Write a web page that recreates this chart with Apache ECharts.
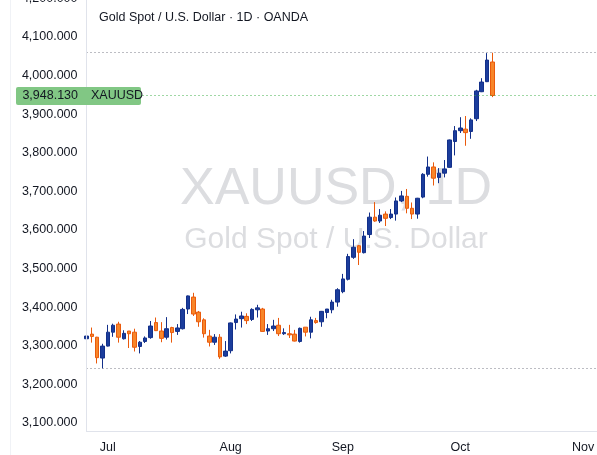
<!DOCTYPE html>
<html>
<head>
<meta charset="utf-8">
<title>XAUUSD 1D</title>
<script src="https://cdn.jsdelivr.net/npm/echarts@6/dist/echarts.min.js"></script>
<style>
  html, body { margin: 0; padding: 0; background: #fff; }
  #chart { width: 597px; height: 455px; }
</style>
</head>
<body>
<div id="chart"></div>
<script>
// daily bars Jun 25 - Oct 9 2025
const opens  = [3318, 3330, 3322, 3268, 3299, 3335, 3356, 3318, 3338, 3335, 3298, 3311, 3321, 3360, 3338, 3322,
                3347, 3337, 3344, 3395, 3426, 3387, 3367, 3325, 3309, 3322, 3273, 3287, 3360, 3370, 3376, 3368,
                3393, 3395, 3338, 3344, 3353, 3331, 3331, 3330, 3311, 3348, 3335, 3365, 3362, 3386, 3393, 3413,
                3440, 3472, 3529, 3559, 3541, 3588, 3633, 3623, 3641, 3632, 3641, 3675, 3687, 3656, 3641, 3685,
                3744, 3763, 3736, 3747, 3762, 3829, 3857, 3861, 3855, 3888, 3958, 3984, 4035];
const closes = [3325, 3324, 3269, 3299, 3335, 3353, 3322, 3332, 3331, 3296, 3309, 3320, 3351, 3339, 3319, 3344,
                3334, 3346, 3394, 3429, 3382, 3362, 3331, 3309, 3322, 3271, 3286, 3359, 3369, 3377, 3365, 3394,
                3398, 3337, 3344, 3351, 3331, 3334, 3328, 3312, 3345, 3335, 3367, 3360, 3389, 3395, 3413, 3445,
                3473, 3531, 3555, 3542, 3584, 3633, 3623, 3638, 3630, 3641, 3675, 3688, 3656, 3641, 3682, 3744,
                3763, 3734, 3747, 3758, 3833, 3857, 3864, 3852, 3885, 3960, 3983, 4040, 3948.13];
const lows   = [3315, 3308, 3254, 3241, 3298, 3323, 3308, 3316, 3294, 3285, 3280, 3307, 3318, 3338, 3309, 3316,
                3308, 3328, 3342, 3382, 3377, 3349, 3321, 3298, 3302, 3266, 3271, 3280, 3342, 3347, 3356, 3364,
                3373, 3336, 3328, 3338, 3325, 3328, 3320, 3311, 3308, 3324, 3319, 3357, 3349, 3371, 3384, 3401,
                3436, 3469, 3525, 3509, 3539, 3579, 3621, 3618, 3610, 3628, 3624, 3672, 3643, 3628, 3629, 3682,
                3738, 3715, 3721, 3736, 3761, 3793, 3851, 3818, 3836, 3882, 3957, 3983, 3944];
const highs  = [3327, 3347, 3323, 3305, 3354, 3357, 3362, 3340, 3338, 3344, 3312, 3324, 3364, 3373, 3361, 3374,
                3349, 3356, 3398, 3430, 3437, 3390, 3371, 3341, 3330, 3330, 3312, 3360, 3381, 3388, 3384, 3397,
                3406, 3398, 3356, 3367, 3372, 3345, 3354, 3341, 3347, 3348, 3375, 3372, 3390, 3395, 3419, 3449,
                3486, 3538, 3576, 3561, 3597, 3645, 3672, 3654, 3648, 3654, 3684, 3701, 3706, 3671, 3683, 3747,
                3790, 3775, 3760, 3781, 3834, 3869, 3892, 3895, 3889, 3963, 3993, 4058, 4059];
const lastPrice = 3948.13;
const symbol = 'XAUUSD';
const firstDay = '2025-06-25';
const slotCount = 97; // bars + empty weekdays to early Nov
const monthNames = ['Jan', 'Feb', 'Mar', 'Apr', 'May', 'Jun', 'Jul', 'Aug', 'Sep', 'Oct', 'Nov', 'Dec'];
const priceMin = 3000, priceMax = 4200, priceStep = 100;

const FONT = '"Liberation Sans", Arial, sans-serif';
const TEXT = '#131722';

// weekday calendar for the category axis
const dates = [];
let d = new Date(firstDay + 'T00:00:00Z');
while (dates.length < slotCount) {
  const wd = d.getUTCDay();
  if (wd !== 0 && wd !== 6) dates.push(d.toISOString().slice(0, 10));
  d.setUTCDate(d.getUTCDate() + 1);
}
const monthStart = {};
dates.forEach((s, i) => {
  if (i > 0 && s.slice(5, 7) !== dates[i - 1].slice(5, 7)) monthStart[i] = true;
});

const bars = opens.map((o, i) => [o, closes[i], lows[i], highs[i]]);

function fmtPrice(v) {
  const p = Number(v).toFixed(3).split('.');
  return p[0].replace(/\B(?=(\d{3})+(?!\d))/g, ',') + '.' + p[1];
}

const dotted = (color) => ({
  silent: true,
  symbol: ['none', 'none'],
  label: { show: false },
  emphasis: { disabled: true },
  lineStyle: { color: color, type: [1, 3], width: 1, opacity: 1 }
});

const chart = echarts.init(document.getElementById('chart'));
chart.setOption({
  animation: false,
  textStyle: { fontFamily: FONT },
  title: {
    text: 'Gold Spot / U.S. Dollar · 1D · OANDA',
    left: 94, top: 6,
    textStyle: { fontSize: 12.5, fontWeight: 'normal', color: TEXT, fontFamily: FONT }
  },
  grid: { left: 86.5, right: -2.1, top: -1.7, bottom: -6.5, outerBoundsMode: 'none' },
  xAxis: {
    type: 'category',
    data: dates,
    boundaryGap: false,
    offset: -30,
    axisLine: { lineStyle: { color: '#e0e3eb' } },
    axisTick: { show: false },
    splitLine: { show: false },
    axisLabel: {
      interval: (i) => !!monthStart[i],
      formatter: (v) => monthNames[+v.slice(5, 7) - 1],
      color: TEXT, fontSize: 12.5, margin: 10, fontFamily: FONT
    }
  },
  yAxis: {
    type: 'value',
    min: priceMin, max: priceMax, interval: priceStep,
    axisLine: { show: false },
    axisTick: { show: false },
    splitLine: { show: false },
    axisLabel: { formatter: fmtPrice, color: TEXT, fontSize: 12.5, margin: 9, fontFamily: FONT }
  },
  series: [{
    type: 'candlestick',
    data: bars,
    barWidth: 4,
    itemStyle: {
      color: '#1b3d9c', borderColor: '#13308a',
      color0: '#f7862a', borderColor0: '#ea5a0c',
      borderWidth: 1
    },
    markLine: Object.assign(dotted('#787b86'), {
      data: [
        { type: 'max', valueDim: 'highest' },
        { type: 'min', valueDim: 'lowest' }
      ]
    })
  }, {
    // last price line
    type: 'line',
    data: [],
    markLine: Object.assign(dotted('#3fae49'), { data: [{ yAxis: lastPrice }] })
  }]
});

const py = chart.convertToPixel({ yAxisIndex: 0 }, lastPrice);
chart.setOption({
  graphic: [
    { type: 'text', x: 336, y: 190, z: 0, silent: true,
      style: { text: 'XAUUSD, 1D', font: '52px ' + FONT, fill: '#dcdde0',
               align: 'center', verticalAlign: 'middle', textAlign: 'center', textVerticalAlign: 'middle' } },
    { type: 'text', x: 336, y: 240, z: 0, silent: true,
      style: { text: 'Gold Spot / U.S. Dollar', font: '30px ' + FONT, fill: '#dcdde0',
               align: 'center', verticalAlign: 'middle', textAlign: 'center', textVerticalAlign: 'middle' } },
    { type: 'line', z: 50, silent: true,
      shape: { x1: 86.5, y1: 0, x2: 86.5, y2: 432 },
      style: { stroke: '#e0e3eb', lineWidth: 1 } },
    { type: 'line', z: 50, silent: true,
      shape: { x1: 10.5, y1: 0, x2: 10.5, y2: 455 },
      style: { stroke: '#f0f2f6', lineWidth: 1 } },
    { type: 'rect', z: 100, silent: true,
      shape: { x: 16, y: Math.round(py) - 9, width: 125, height: 18, r: 2 },
      style: { fill: '#81c784' } },
    { type: 'text', x: 78, y: py, z: 101, silent: true,
      style: { text: fmtPrice(lastPrice), font: '12.5px ' + FONT, fill: TEXT,
               align: 'right', verticalAlign: 'middle', textAlign: 'right', textVerticalAlign: 'middle' } },
    { type: 'text', x: 91, y: py, z: 101, silent: true,
      style: { text: symbol, font: '12.5px ' + FONT, fill: TEXT,
               align: 'left', verticalAlign: 'middle', textAlign: 'left', textVerticalAlign: 'middle' } }
  ]
});
</script>
</body>
</html>
